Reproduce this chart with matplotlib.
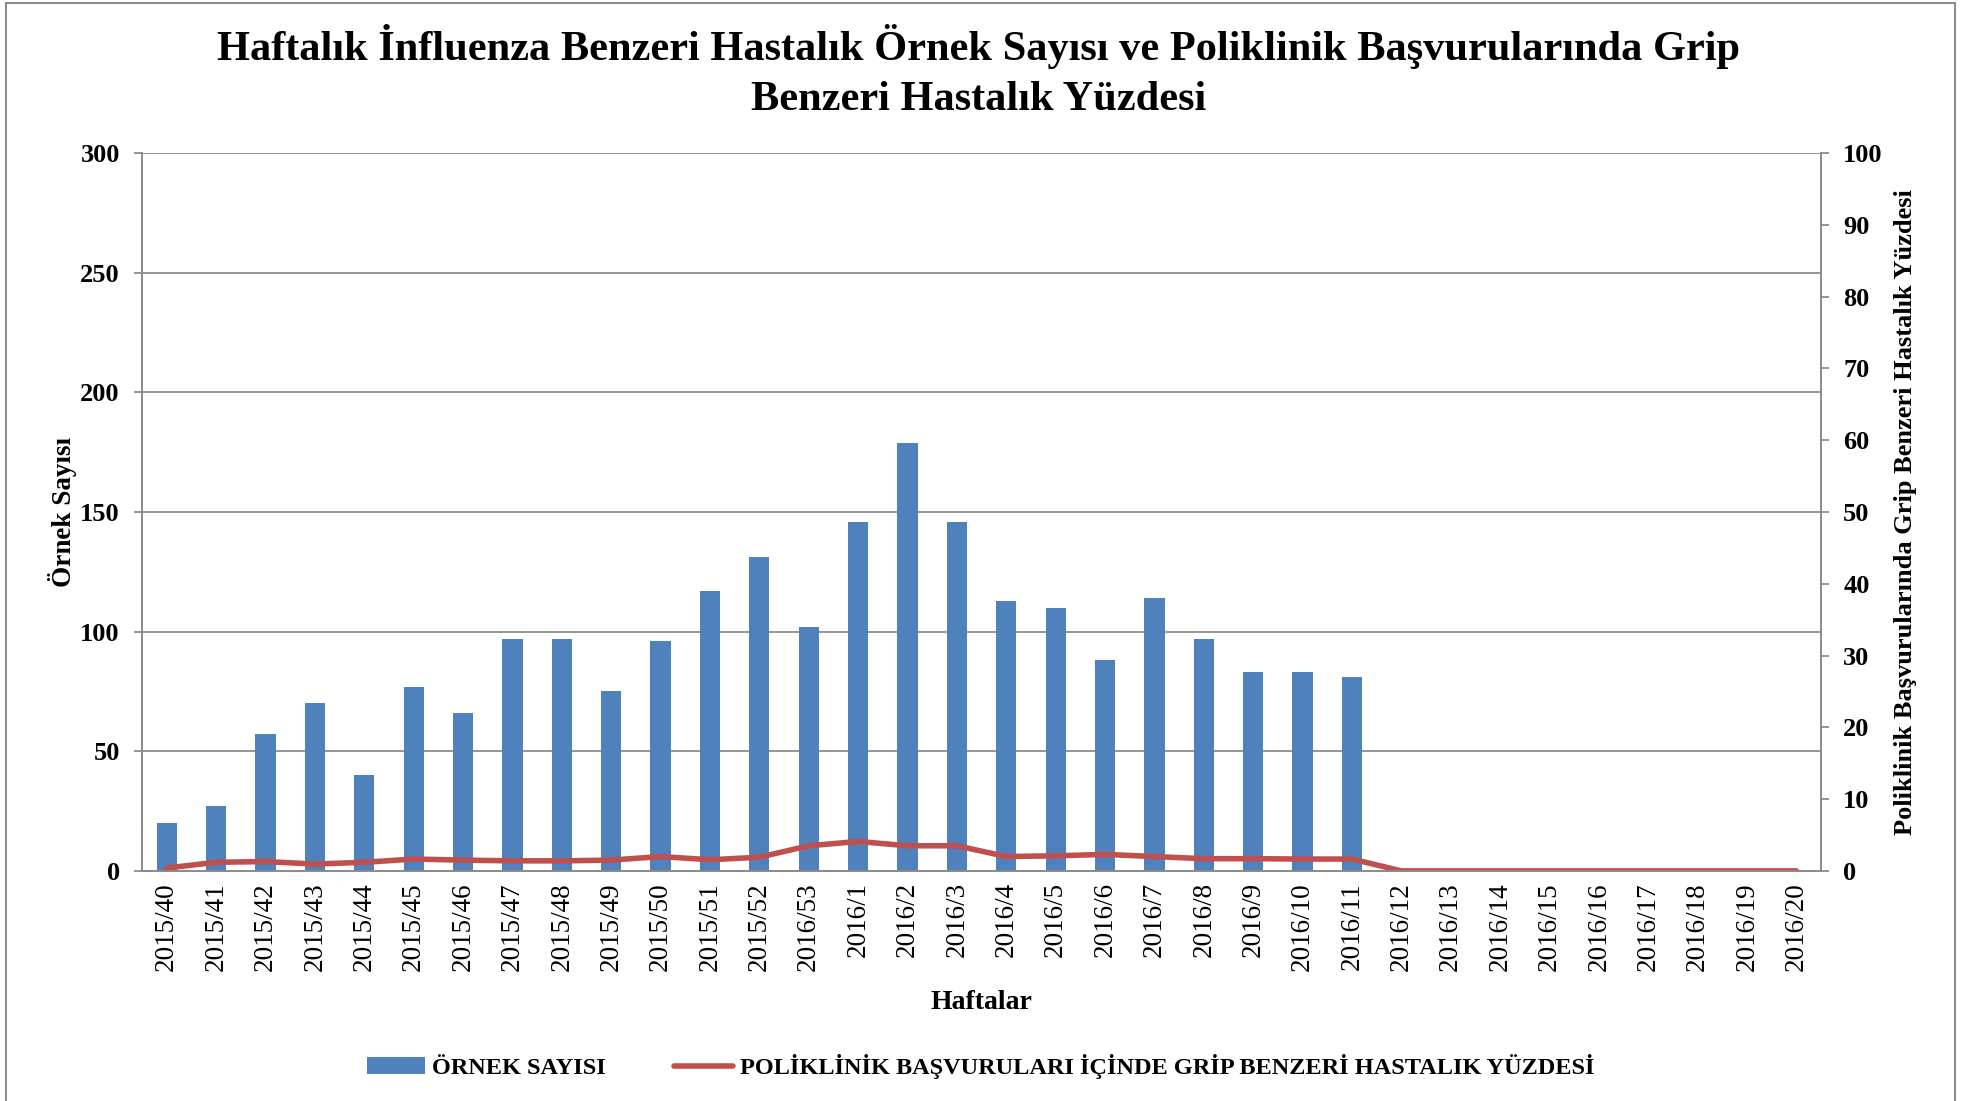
'''
Haftalik ILI ornek sayisi ve GBH yuzdesi grafigi.
'''

import matplotlib
matplotlib.use('Agg')
import numpy as np
import matplotlib.pyplot as plt
from matplotlib.patches import Rectangle

weeks = ['2015/40', '2015/41', '2015/42', '2015/43', '2015/44', '2015/45', '2015/46',
         '2015/47', '2015/48', '2015/49', '2015/50', '2015/51', '2015/52', '2016/53',
         '2016/1', '2016/2', '2016/3', '2016/4', '2016/5', '2016/6', '2016/7', '2016/8',
         '2016/9', '2016/10', '2016/11', '2016/12', '2016/13', '2016/14', '2016/15',
         '2016/16', '2016/17', '2016/18', '2016/19', '2016/20']

# ornek sayisi (sol eksen)
sample_counts = [20, 27, 57, 70, 40, 77, 66, 97, 97, 75, 96, 117, 131, 102,
                 146, 179, 146, 113, 110, 88, 114, 97, 83, 83, 81,
                 0, 0, 0, 0, 0, 0, 0, 0, 0]

# poliklinik basvurularinda GBH yuzdesi (sag eksen)
ili_percent = [0.4, 1.2, 1.3, 0.95, 1.2, 1.65, 1.5, 1.4, 1.4, 1.5, 2.0, 1.55, 1.9, 3.5,
               4.1, 3.5, 3.5, 2.0, 2.1, 2.3, 2.0, 1.7, 1.7, 1.65, 1.65,
               0, 0, 0, 0, 0, 0, 0, 0, 0]

BLUE = '#4F81BD'
RED = '#C0504D'
GRID = '#8C8C8C'
FONT = 'Liberation Serif'

plt.rcParams['font.family'] = FONT

fig = plt.figure(figsize=(19.73, 11.01), dpi=100)
ax = fig.add_axes([0.072, 0.209, 0.851, 0.652])
ax2 = ax.twinx()

x = np.arange(len(weeks))
ax.bar(x, sample_counts, width=0.41, color=BLUE, zorder=3, label='ÖRNEK SAYISI')
ax2.plot(x, ili_percent, color=RED, lw=4, solid_capstyle='round', solid_joinstyle='round',
         label='POLİKLİNİK BAŞVURULARI İÇİNDE GRİP BENZERİ HASTALIK YÜZDESİ')

ax.set_xlim(-0.5, len(weeks) - 0.5)
ax.set_ylim(0, 300)
ax.set_yticks(np.arange(0, 301, 50))
ax2.set_ylim(0, 100)
ax2.set_yticks(np.arange(0, 101, 10))

ax.yaxis.grid(True, color=GRID, lw=1.3)
ax.set_axisbelow(True)

ax.set_xticks(x)
ax.set_xticklabels(weeks, rotation=90, fontsize=19.5)
ax.tick_params(axis='x', length=0, pad=8)
ax.tick_params(axis='y', length=6, width=1.3, color=GRID, pad=10, labelsize=19)
ax2.tick_params(axis='y', length=6, width=1.3, color=GRID, pad=10, labelsize=19)
for lab in ax.get_yticklabels() + ax2.get_yticklabels():
    lab.set_fontweight('bold')

for a in (ax, ax2):
    a.spines['top'].set_visible(False)
    for s in ('left', 'right', 'bottom'):
        a.spines[s].set_color(GRID)
        a.spines[s].set_linewidth(1.3)

ax.set_xlabel('Haftalar', fontsize=20, fontweight='bold', labelpad=14)
ax.set_ylabel('Örnek Sayısı', fontsize=19.5, fontweight='bold', labelpad=2)
ax2.set_ylabel('Poliklinik Başvurularında Grip Benzeri Hastalık Yüzdesi',
               fontsize=19, fontweight='bold', labelpad=8)

fig.suptitle('Haftalık İnfluenza Benzeri Hastalık Örnek Sayısı ve Poliklinik Başvurularında Grip\n'
             'Benzeri Hastalık Yüzdesi', fontsize=30.5, fontweight='bold', y=0.978,
             linespacing=1.4, x=0.496)

h1, l1 = ax.get_legend_handles_labels()
h2, l2 = ax2.get_legend_handles_labels()
fig.legend(h1 + h2, l1 + l2, loc='center', bbox_to_anchor=(0.497, 0.031), ncol=2,
           frameon=False, prop={'family': FONT, 'weight': 'bold', 'size': 17.5},
           handlelength=2.4, handletextpad=0.3, columnspacing=2.8)

# grafik cercevesi
fig.patches.append(Rectangle((0.003, -0.01), 0.988, 1.007, transform=fig.transFigure,
                             fill=False, edgecolor=GRID, lw=1.5))

plt.savefig('out.png', dpi=100)
